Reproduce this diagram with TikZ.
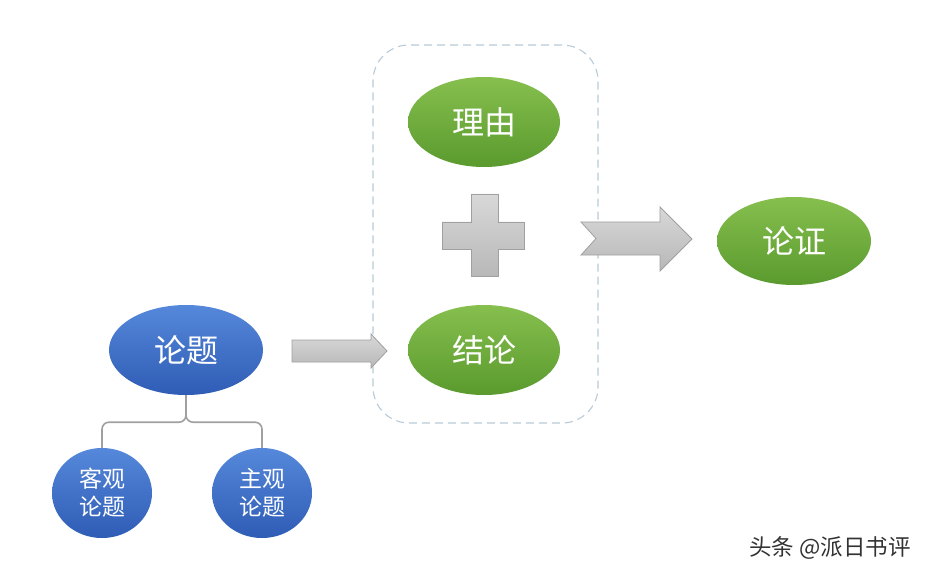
\documentclass[tikz,border=0pt]{standalone}
\usepackage{fontspec}
\setmainfont{Noto Sans CJK SC}
\usetikzlibrary{shapes.geometric}
\definecolor{gtop}{HTML}{86BF4E}
\definecolor{gbot}{HTML}{5A9A2E}
\definecolor{btop}{HTML}{5588DA}
\definecolor{bbot}{HTML}{2F5CB5}
\definecolor{graytop}{HTML}{D8D8D8}
\definecolor{graybot}{HTML}{B8B8B8}
\definecolor{grayline}{HTML}{A0A0A0}
\definecolor{dashc}{HTML}{B9CBD8}
\tikzset{
  greenell/.style={ellipse, minimum width=152pt, minimum height=90pt, inner sep=0pt,
    top color=gtop, bottom color=gbot, draw=none, text=white, font=\fontsize{32}{36}\selectfont},
  blueell/.style={ellipse, minimum width=154pt, minimum height=90pt, inner sep=0pt,
    top color=btop, bottom color=bbot, draw=none, text=white, font=\fontsize{32}{36}\selectfont},
  smallell/.style={ellipse, minimum width=100pt, minimum height=90pt, inner sep=0pt,
    top color=btop, bottom color=bbot, draw=none, text=white, align=center,
    font=\fontsize{23}{28}\selectfont},
  grayshape/.style={draw=grayline, line width=0.8pt, top color=graytop, bottom color=graybot},
  bracebar/.style={draw=grayline, line width=1.6pt, rounded corners=7pt},
  groupbox/.style={draw=dashc, line width=1.1pt, dash pattern=on 8pt off 5pt,
    rounded corners=36pt, minimum width=225pt, minimum height=378pt},
}
\begin{document}
\begin{tikzpicture}[x=1pt,y=-1pt]
\useasboundingbox (0,0) rectangle (933,577);
\fill[white] (0,0) rectangle (933,577);
% group box
\node[groupbox] (group) at (485.5,234) {};
% nodes
\node[greenell] (reason) at (484,122) {理由};
\node[greenell] (concl) at (484,350) {结论};
\node[greenell, minimum width=154pt, minimum height=88pt] (arg) at (794,241) {论证};
\node[blueell] (topic) at (186,350) {论题};
\node[smallell] (obj) at (102,493) {客观\\论题};
\node[smallell] (subj) at (262,493) {主观\\论题};
% plus
\path[grayshape] (471,194) -- (498,194) -- (498,222) -- (524,222) -- (524,249) -- (498,249)
  -- (498,276) -- (471,276) -- (471,249) -- (442,249) -- (442,222) -- (471,222) -- cycle;
% big notched arrow
\path[grayshape] (581,222) -- (660,222) -- (660,207) -- (692,239) -- (660,271) -- (660,255)
  -- (581,255) -- (596,238.5) -- cycle;
% small arrow
\path[grayshape] (292,340) -- (371,340) -- (371,334) -- (387,351) -- (371,368) -- (371,362)
  -- (292,362) -- cycle;
% brace
\draw[bracebar] (topic.south) -- ([yshift=-27pt]topic.south) -| (obj.north);
\draw[bracebar] (topic.south) -- ([yshift=-27pt]topic.south) -| (subj.north);
% watermark
\node[text=black!80!white, font=\fontsize{22.5}{24}\selectfont] (wm) at (830,548) {头条 @派日书评};
\end{tikzpicture}
\end{document}
